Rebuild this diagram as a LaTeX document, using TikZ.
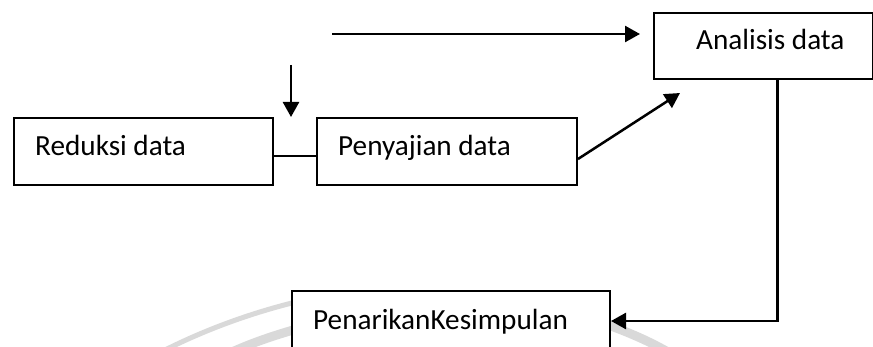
\documentclass[tikz,border=0pt]{standalone}
\usepackage{fontspec}
\setmainfont{Carlito}
\usetikzlibrary{arrows.meta}
\begin{document}
\begin{tikzpicture}[x=1pt,y=-1pt,
  box/.style={draw=black,line width=2pt,fill=white,inner sep=0pt,anchor=north west},
  lbl/.style={anchor=base west,inner sep=0pt,font=\fontsize{29.2}{35}\selectfont},
  flow/.style={line width=2.5pt,-{Triangle[length=15pt,width=16pt]}},
  link/.style={line width=2.2pt},
  wmthin/.style={draw=gray!30,line width=5pt},
  wmthick/.style={draw=gray!30,line width=9pt}]
\useasboundingbox (0,0) rectangle (873,347);
\clip (0,0) rectangle (873,347);

% faint logo arcs in the background
\draw[wmthin] (165,350) .. controls (205,330) and (250,313) .. (300,301);
\draw[wmthick] (232,352) .. controls (252,343) and (272,336) .. (300,328);
\draw[wmthick] (600,322) .. controls (625,331) and (645,339) .. (668,352);

% boxes
\node[box,minimum width=259pt,minimum height=67pt] (red) at (13,117) {};
\node[box,minimum width=260pt,minimum height=67pt] (pen) at (316,117) {};
\node[box,minimum width=219pt,minimum height=66pt] (ana) at (653,12) {};
\node[box,minimum width=318pt,minimum height=60pt] (kes) at (291,290) {};

% labels
\node[lbl] (redT) at (35,156) {Reduksi data};
\node[lbl] (penT) at (338,156) {Penyajian data};
\node[lbl] (anaT) at (696,50) {Analisis data};
\node[lbl] (kesT) at (313,330) {PenarikanKesimpulan};

% free arrow ends
\coordinate (topS) at (332,34);
\coordinate (topE) at (640,34);
\coordinate (dnS) at (291,65);
\coordinate (dnE) at (291,117);
\coordinate (diagE) at (680,93);

% connectors
\draw[flow] (topS) -- (topE);
\draw[flow] (dnS) -- (dnE);
\draw[link] ([yshift=-4.5pt]red.east) -- ([yshift=-4.5pt]pen.west);
\draw[flow] ([yshift=-7.5pt]pen.east) -- (diagE);
\draw[flow] ([xshift=14pt]ana.south) |- (kes.east);
\end{tikzpicture}
\end{document}
